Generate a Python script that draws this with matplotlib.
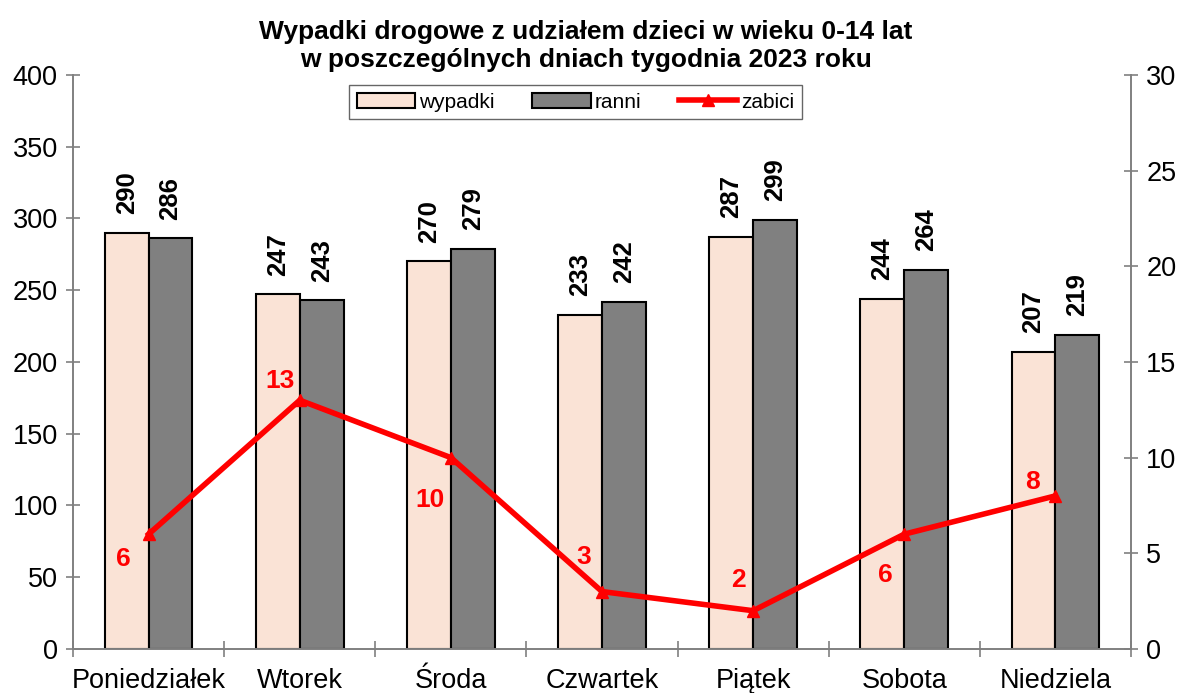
import matplotlib
matplotlib.use('Agg')
import matplotlib.pyplot as plt
import numpy as np

plt.rcParams['font.family'] = ['Liberation Sans', 'DejaVu Sans']

# dane z wykresu
dni = ['Poniedziałek', 'Wtorek', 'Środa', 'Czwartek', 'Piątek', 'Sobota', 'Niedziela']
wypadki = [290, 247, 270, 233, 287, 244, 207]
ranni = [286, 243, 279, 242, 299, 264, 219]
zabici = [6, 13, 10, 3, 2, 6, 8]
# położenie etykiet zabitych względem punktu: (dx w kategoriach, dy w jednostkach prawej osi)
zabici_off = [(-0.165, -1.3), (-0.13, 1.0), (-0.14, -2.2), (-0.12, 1.8), (-0.095, 1.6), (-0.125, -2.15), (-0.15, 0.7)]

fig = plt.figure(figsize=[11.84, 6.93], dpi=100)
ax = fig.add_axes([0.0617, 0.0635, 0.8935, 0.8285])
ax2 = ax.twinx()

x = np.arange(len(dni))
w = 0.29
ax.bar(x - w/2, wypadki, w, color='#FAE3D6', edgecolor='black', lw=1.5, label='wypadki', zorder=2)
ax.bar(x + w/2, ranni, w, color='#808080', edgecolor='black', lw=1.5, label='ranni', zorder=2)

for i in range(len(dni)):
    ax.text(x[i] - w/2, wypadki[i] + 13, str(wypadki[i]), rotation=90, ha='center', va='bottom',
            fontsize=18.5, fontweight='bold')
    ax.text(x[i] + w/2, ranni[i] + 13, str(ranni[i]), rotation=90, ha='center', va='bottom',
            fontsize=18.5, fontweight='bold')

ax2.plot(x, zabici, '-^', color='red', lw=4, ms=8, label='zabici', zorder=3)
for i in range(len(dni)):
    dx, dy = zabici_off[i]
    ax2.text(x[i] + dx, zabici[i] + dy, str(zabici[i]), color='red', ha='center', va='center',
             fontsize=19, fontweight='bold')

ax.set_xlim(-0.5, len(dni) - 0.5)
ax.set_ylim(0, 400)
ax2.set_ylim(0, 30)
ax.set_yticks(range(0, 401, 50))
ax2.set_yticks(range(0, 31, 5))
ax.set_xticks(x)
ax.set_xticklabels(dni, fontsize=19.5)
ax.set_xticks(np.arange(-0.5, len(dni), 1), minor=True)
ax.tick_params(axis='x', which='major', length=0, pad=14)
ax.tick_params(axis='x', which='minor', direction='inout', length=12, color='#808080', width=1.2)
ax.tick_params(axis='y', direction='inout', length=10, color='#808080', width=1.2, labelsize=19.5, pad=6)
ax2.tick_params(axis='y', direction='inout', length=10, color='#808080', width=1.2, labelsize=19.5, pad=6)

for a in (ax, ax2):
    a.spines['top'].set_visible(False)
    for s in ('left', 'right', 'bottom'):
        a.spines[s].set_color('#808080')
        a.spines[s].set_linewidth(1.2)

ax.set_title('Wypadki drogowe z udziałem dzieci w wieku 0-14 lat\nw poszczególnych dniach tygodnia 2023 roku',
             fontsize=19, fontweight='bold', pad=6, linespacing=1.2, x=0.485)

h1, l1 = ax.get_legend_handles_labels()
h2, l2 = ax2.get_legend_handles_labels()
leg = ax2.legend(h1 + h2, l1 + l2, loc='upper center', bbox_to_anchor=(0.475, 1.0), ncol=3,
                 fontsize=15, frameon=True, fancybox=False, edgecolor='#404040',
                 handlelength=2.8, handletextpad=0.2, columnspacing=1.8, borderpad=0.35,
                 borderaxespad=0.5)
leg.get_frame().set_linewidth(1.0)

fig.savefig('out.png', dpi=100)
